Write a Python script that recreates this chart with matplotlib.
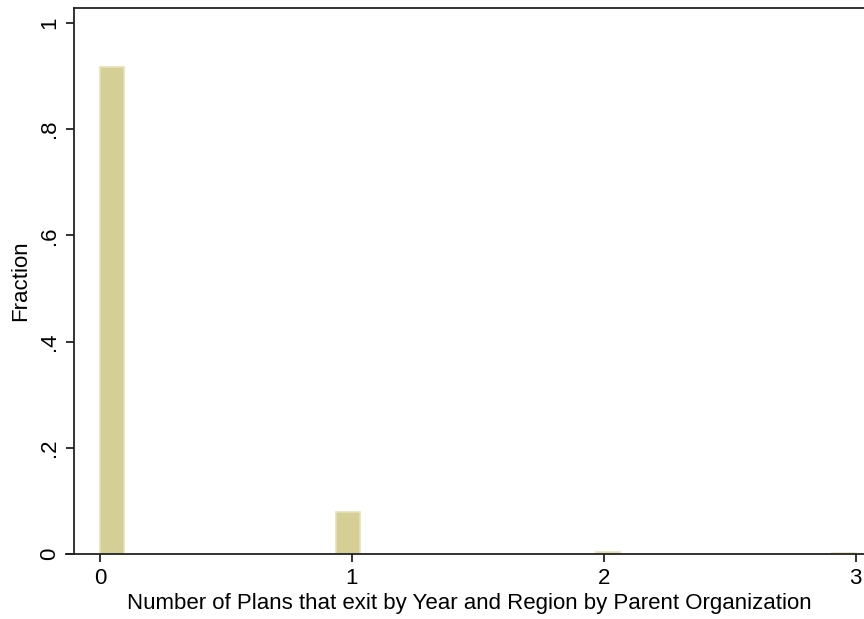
import numpy as np
import matplotlib.pyplot as plt

plt.rcParams['font.family'] = ['Liberation Sans', 'DejaVu Sans']

# histogram of exits per parent organisation, 32 bins over [0, 3]
exit_counts = [0, 1, 2, 3]
fractions = [0.916, 0.0795, 0.0035, 0.0012]
n_bins = 32
bin_w = 3 / n_bins

bin_left = [np.floor(v / bin_w) * bin_w if v < 3 else 3 - bin_w for v in exit_counts]

fig = plt.figure(figsize=(8.64, 6.19), dpi=100)
ax = fig.add_axes([74 / 864, 65 / 619, 1 - 74 / 864, (554 - 8) / 619])

ax.bar(bin_left, fractions, width=bin_w, align='edge',
       color='#d5cf95', edgecolor='#e6e2b8', linewidth=1.2)

ax.set_xlim(-0.1033, 3.033)
ax.set_ylim(0, 1.028)

ax.set_xticks([0, 1, 2, 3])
ax.set_xticklabels(['0', '1', '2', '3'])
ax.set_yticks([0, 0.2, 0.4, 0.6, 0.8, 1.0])
ax.set_yticklabels(['0', '.2', '.4', '.6', '.8', '1'], rotation=90, va='center')

ax.tick_params(axis='both', direction='out', length=6, width=1.3,
               labelsize=16, pad=4, color='#222222')
for side in ['left', 'bottom', 'top']:
    ax.spines[side].set_linewidth(1.3)
    ax.spines[side].set_color('#222222')
ax.spines['right'].set_visible(False)

# small stub of the x axis line to the left of the y axis
ax.plot([-8 / 790, 0], [0, 0], transform=ax.transAxes, color='#222222',
        lw=1.3, clip_on=False)

ax.set_xlabel('Number of Plans that exit by Year and Region by Parent Organization',
              fontsize=16, labelpad=3)
ax.set_ylabel('Fraction', fontsize=16, labelpad=6)

fig.savefig('out.png', dpi=100)
